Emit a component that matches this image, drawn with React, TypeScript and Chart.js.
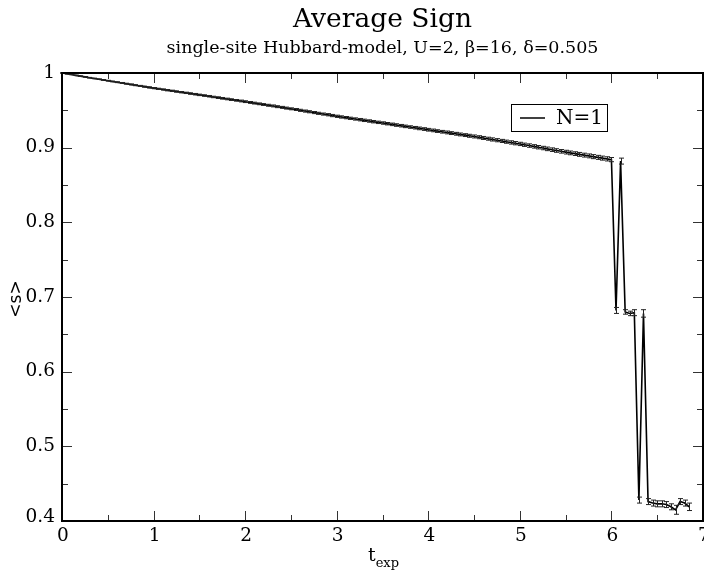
import React, { useEffect, useRef } from "react";
import { Chart, registerables } from "chart.js";

Chart.register(...registerables);

const chartTitle = "Average Sign";
const chartSubtitle = "single-site Hubbard-model, U=2, β=16, δ=0.505";
const yAxisTitle = "<s>";
const xAxisTitleMain = "t";
const xAxisTitleSub = "exp";
const legendLabel = "N=1";

const xMajorTicks = [0, 1, 2, 3, 4, 5, 6, 7];
const xMinorTicks = [0.5, 1.5, 2.5, 3.5, 4.5, 5.5, 6.5];
const yMajorTicks = [0.4, 0.5, 0.6, 0.7, 0.8, 0.9, 1];
const yMinorTicks = [0.45, 0.55, 0.65, 0.75, 0.85, 0.95];
const yTickLabels = ["0.4", "0.5", "0.6", "0.7", "0.8", "0.9", "1"];

const tExp = [
  0.0, 0.05, 0.1, 0.15, 0.2, 0.25, 0.3, 0.35, 0.4, 0.45,
  0.5, 0.55, 0.6, 0.65, 0.7, 0.75, 0.8, 0.85, 0.9, 0.95,
  1.0, 1.05, 1.1, 1.15, 1.2, 1.25, 1.3, 1.35, 1.4, 1.45,
  1.5, 1.55, 1.6, 1.65, 1.7, 1.75, 1.8, 1.85, 1.9, 1.95,
  2.0, 2.05, 2.1, 2.15, 2.2, 2.25, 2.3, 2.35, 2.4, 2.45,
  2.5, 2.55, 2.6, 2.65, 2.7, 2.75, 2.8, 2.85, 2.9, 2.95,
  3.0, 3.05, 3.1, 3.15, 3.2, 3.25, 3.3, 3.35, 3.4, 3.45,
  3.5, 3.55, 3.6, 3.65, 3.7, 3.75, 3.8, 3.85, 3.9, 3.95,
  4.0, 4.05, 4.1, 4.15, 4.2, 4.25, 4.3, 4.35, 4.4, 4.45,
  4.5, 4.55, 4.6, 4.65, 4.7, 4.75, 4.8, 4.85, 4.9, 4.95,
  5.0, 5.05, 5.1, 5.15, 5.2, 5.25, 5.3, 5.35, 5.4, 5.45,
  5.5, 5.55, 5.6, 5.65, 5.7, 5.75, 5.8, 5.85, 5.9, 5.95,
  6.0, 6.05, 6.1, 6.15, 6.2, 6.25, 6.3, 6.35, 6.4, 6.45,
  6.5, 6.55, 6.6, 6.65, 6.7, 6.75, 6.8, 6.85,
];

const avgSign = [
  1.0, 0.9989, 0.9979, 0.9968, 0.9958, 0.9948, 0.9937, 0.9927, 0.9917, 0.9907,
  0.9897, 0.9887, 0.9877, 0.9867, 0.9857, 0.9847, 0.9837, 0.9827, 0.9817, 0.9807,
  0.9797, 0.9788, 0.9779, 0.977, 0.9761, 0.9752, 0.9743, 0.9734, 0.9725, 0.9716,
  0.9707, 0.9698, 0.9689, 0.9679, 0.967, 0.9661, 0.9652, 0.9643, 0.9634, 0.9625,
  0.9616, 0.9606, 0.9597, 0.9587, 0.9578, 0.9568, 0.9559, 0.9549, 0.954, 0.953,
  0.952, 0.9511, 0.95, 0.949, 0.9481, 0.947, 0.946, 0.945, 0.9441, 0.943,
  0.942, 0.9411, 0.9402, 0.9393, 0.9384, 0.9375, 0.9366, 0.9357, 0.9348, 0.9339,
  0.933, 0.9321, 0.9312, 0.9303, 0.9294, 0.9285, 0.9276, 0.9267, 0.9258, 0.9249,
  0.924, 0.9231, 0.9222, 0.9213, 0.9204, 0.9195, 0.9186, 0.9177, 0.9168, 0.9159,
  0.915, 0.914, 0.913, 0.912, 0.911, 0.91, 0.909, 0.908, 0.907, 0.906,
  0.905, 0.9039, 0.9028, 0.9017, 0.9006, 0.8995, 0.8984, 0.8973, 0.8962, 0.8951,
  0.894, 0.893, 0.892, 0.891, 0.89, 0.889, 0.888, 0.887, 0.886, 0.885,
  0.884, 0.682, 0.882, 0.68, 0.678, 0.679, 0.428, 0.678, 0.426, 0.424,
  0.423, 0.423, 0.422, 0.419, 0.415, 0.426, 0.424, 0.419,
];

const signErr = [
  0.0001, 0.0002, 0.0002, 0.0003, 0.0003, 0.0003, 0.0004, 0.0004, 0.0004, 0.0005,
  0.0005, 0.0005, 0.0006, 0.0006, 0.0006, 0.0007, 0.0007, 0.0007, 0.0007, 0.0008,
  0.0008, 0.0008, 0.0008, 0.0009, 0.0009, 0.0009, 0.0009, 0.0009, 0.001, 0.001,
  0.001, 0.001, 0.001, 0.001, 0.0011, 0.0011, 0.0011, 0.0011, 0.0011, 0.0012,
  0.0012, 0.0012, 0.0012, 0.0012, 0.0012, 0.0013, 0.0013, 0.0013, 0.0013, 0.0013,
  0.0013, 0.0013, 0.0014, 0.0014, 0.0014, 0.0014, 0.0014, 0.0014, 0.0015, 0.0015,
  0.0015, 0.0015, 0.0015, 0.0015, 0.0015, 0.0016, 0.0016, 0.0016, 0.0016, 0.0016,
  0.0016, 0.0016, 0.0017, 0.0017, 0.0017, 0.0017, 0.0017, 0.0017, 0.0018, 0.0018,
  0.0018, 0.0018, 0.0018, 0.0018, 0.0019, 0.0019, 0.0019, 0.0019, 0.0019, 0.002,
  0.002, 0.002, 0.002, 0.002, 0.0021, 0.0021, 0.0021, 0.0021, 0.0022, 0.0022,
  0.0022, 0.0022, 0.0023, 0.0023, 0.0023, 0.0023, 0.0024, 0.0024, 0.0024, 0.0024,
  0.0025, 0.0025, 0.0025, 0.0026, 0.0026, 0.0026, 0.0027, 0.0027, 0.0027, 0.0028,
  0.0028, 0.004, 0.004, 0.003, 0.003, 0.004, 0.004, 0.005, 0.004, 0.004,
  0.004, 0.004, 0.004, 0.004, 0.006, 0.004, 0.004, 0.005,
];

const SERIF = "'DejaVu Serif', serif";
const SANS = "'DejaVu Sans', sans-serif";

const decorPlugin = {
  id: "decor",
  afterDatasetsDraw(chart: any) {
    const ctx = chart.ctx as CanvasRenderingContext2D;
    const xs = chart.scales.x;
    const ys = chart.scales.y;
    const { left, right, top, bottom } = chart.chartArea;

    // error bars
    ctx.save();
    ctx.strokeStyle = "#222";
    ctx.lineWidth = 1;
    for (let i = 0; i < tExp.length; i++) {
      const px = Math.round(xs.getPixelForValue(tExp[i])) + 0.5;
      const y1 = ys.getPixelForValue(avgSign[i] + signErr[i]);
      const y2 = ys.getPixelForValue(avgSign[i] - signErr[i]);
      ctx.beginPath();
      ctx.moveTo(px, y1);
      ctx.lineTo(px, y2);
      ctx.moveTo(px - 2.5, y1);
      ctx.lineTo(px + 2.5, y1);
      ctx.moveTo(px - 2.5, y2);
      ctx.lineTo(px + 2.5, y2);
      ctx.stroke();
    }
    ctx.restore();

    // ticks (inward, on all sides)
    ctx.save();
    ctx.strokeStyle = "#333";
    ctx.lineWidth = 1;
    const drawX = (v: number, len: number) => {
      const px = Math.round(xs.getPixelForValue(v)) + 0.5;
      ctx.beginPath();
      ctx.moveTo(px, bottom);
      ctx.lineTo(px, bottom - len);
      ctx.moveTo(px, top);
      ctx.lineTo(px, top + len);
      ctx.stroke();
    };
    const drawY = (v: number, len: number) => {
      const py = Math.round(ys.getPixelForValue(v)) + 0.5;
      ctx.beginPath();
      ctx.moveTo(left, py);
      ctx.lineTo(left + len, py);
      ctx.moveTo(right, py);
      ctx.lineTo(right - len, py);
      ctx.stroke();
    };
    xMajorTicks.forEach((v) => drawX(v, 10));
    xMinorTicks.forEach((v) => drawX(v, 6));
    yMajorTicks.forEach((v) => drawY(v, 10));
    yMinorTicks.forEach((v) => drawY(v, 6));
    ctx.restore();

    // frame
    ctx.save();
    ctx.strokeStyle = "#000";
    ctx.lineWidth = 2;
    ctx.strokeRect(left, top, right - left, bottom - top);
    ctx.restore();

    // tick labels
    ctx.save();
    ctx.fillStyle = "#000";
    ctx.font = `18.5px ${SERIF}`;
    ctx.textAlign = "center";
    ctx.textBaseline = "top";
    xMajorTicks.forEach((v) => {
      ctx.fillText(String(v), xs.getPixelForValue(v) + 1, bottom + 6);
    });
    ctx.textAlign = "right";
    ctx.textBaseline = "middle";
    yMajorTicks.forEach((v, i) => {
      ctx.fillText(yTickLabels[i], left - 7, ys.getPixelForValue(v) - (i === 0 ? 4 : 0));
    });
    ctx.restore();

    // axis titles
    ctx.save();
    ctx.fillStyle = "#000";
    const cx = (left + right) / 2;
    ctx.font = `19px ${SERIF}`;
    ctx.textBaseline = "alphabetic";
    ctx.textAlign = "left";
    const tW = ctx.measureText(xAxisTitleMain).width;
    ctx.font = `13px ${SERIF}`;
    const sW = ctx.measureText(xAxisTitleSub).width;
    const startX = cx - (tW + sW) / 2 + 1;
    ctx.font = `19px ${SERIF}`;
    ctx.fillText(xAxisTitleMain, startX, bottom + 40);
    ctx.font = `13px ${SERIF}`;
    ctx.fillText(xAxisTitleSub, startX + tW, bottom + 46);

    ctx.translate(17, (top + bottom) / 2 + 2);
    ctx.rotate(-Math.PI / 2);
    ctx.font = `17px ${SANS}`;
    ctx.textAlign = "center";
    ctx.textBaseline = "middle";
    ctx.fillText(yAxisTitle, 0, 0);
    ctx.restore();

    // titles
    ctx.save();
    ctx.fillStyle = "#000";
    ctx.textAlign = "center";
    ctx.textBaseline = "middle";
    ctx.font = `26.5px ${SERIF}`;
    ctx.fillText(chartTitle, cx, top - 53);
    ctx.font = `17.5px ${SERIF}`;
    ctx.fillText(chartSubtitle, cx, top - 25);
    ctx.restore();

    // legend
    ctx.save();
    const lx = left + 449;
    const ly = top + 31;
    ctx.fillStyle = "#fff";
    ctx.fillRect(lx, ly, 96, 27);
    ctx.strokeStyle = "#000";
    ctx.lineWidth = 1;
    ctx.strokeRect(lx + 0.5, ly + 0.5, 96, 27);
    ctx.lineWidth = 1.5;
    ctx.beginPath();
    ctx.moveTo(lx + 9, ly + 14);
    ctx.lineTo(lx + 34, ly + 14);
    ctx.stroke();
    ctx.fillStyle = "#000";
    ctx.font = `20px ${SERIF}`;
    ctx.textAlign = "left";
    ctx.textBaseline = "middle";
    ctx.fillText(legendLabel, lx + 45, ly + 15);
    ctx.restore();
  },
};

export default function App() {
  const canvasRef = useRef<HTMLCanvasElement | null>(null);

  useEffect(() => {
    const canvas = canvasRef.current;
    if (!canvas) return;
    const points = tExp.map((t, i) => ({ x: t, y: avgSign[i] }));
    const chart = new Chart(canvas, {
      type: "line",
      data: {
        datasets: [
          {
            label: legendLabel,
            data: points,
            borderColor: "#000",
            backgroundColor: "#000",
            borderWidth: 1.6,
            pointRadius: 0,
            tension: 0,
            fill: false,
          },
        ],
      },
      options: {
        animation: false,
        responsive: false,
        devicePixelRatio: 1,
        layout: { padding: { left: 62, right: 1, top: 73, bottom: 51 } },
        plugins: {
          legend: { display: false },
          tooltip: { enabled: false },
          title: { display: false },
        },
        scales: {
          x: { type: "linear", min: 0, max: 7, display: false },
          y: { type: "linear", min: 0.4, max: 1, display: false },
        },
      },
      plugins: [decorPlugin],
    });
    return () => chart.destroy();
  }, []);

  return (
    <div style={{ position: "absolute", left: 0, top: 0, width: 704, height: 572, background: "#fff" }}>
      <canvas ref={canvasRef} width={704} height={572} style={{ display: "block" }} />
    </div>
  );
}
